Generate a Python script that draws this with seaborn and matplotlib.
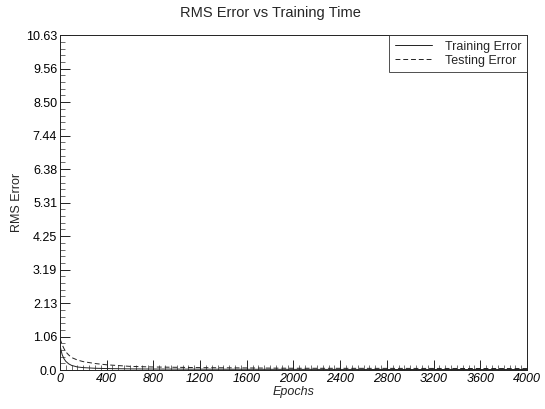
import numpy as np
import pandas as pd
import matplotlib
matplotlib.use("Agg")
import matplotlib.pyplot as plt
from matplotlib.ticker import MultipleLocator, AutoMinorLocator
import seaborn as sns

# Data
train_epochs = [0, 10, 20, 35, 50, 75, 100, 150, 200, 300, 400, 600, 800, 1200, 2000, 3000, 4000]
train_error = [0.80, 0.62, 0.48, 0.36, 0.28, 0.20, 0.15, 0.10, 0.08, 0.06, 0.05, 0.04, 0.035, 0.03, 0.025, 0.02, 0.02]
test_epochs = [0, 10, 20, 35, 50, 75, 100, 150, 200, 300, 400, 600, 800, 1200, 2000, 3000, 4000]
test_error = [1.00, 0.90, 0.80, 0.68, 0.58, 0.48, 0.40, 0.32, 0.27, 0.21, 0.17, 0.12, 0.10, 0.08, 0.06, 0.055, 0.05]
series_names = ["Training Error", "Testing Error"]
y_tick_values = [0.0, 1.063, 2.126, 3.189, 4.252, 5.315, 6.378, 7.441, 8.504, 9.567, 10.63]
y_tick_labels = ["0.0", "1.06", "2.13", "3.19", "4.25", "5.31", "6.38", "7.44", "8.50", "9.56", "10.63"]
x_tick_values = [0, 400, 800, 1200, 1600, 2000, 2400, 2800, 3200, 3600, 4000]

df = pd.concat([
    pd.DataFrame({"Epochs": train_epochs, "RMS Error": train_error, "Series": series_names[0]}),
    pd.DataFrame({"Epochs": test_epochs, "RMS Error": test_error, "Series": series_names[1]}),
])

sns.set_style("white")
plt.rcParams["font.family"] = ["Liberation Sans", "DejaVu Sans"]

fig = plt.figure(figsize=(5.45, 4.09), dpi=100)
ax = fig.add_axes([0.110, 0.095, 0.857, 0.819])

sns.lineplot(data=df, x="Epochs", y="RMS Error", style="Series",
             dashes={series_names[0]: "", series_names[1]: (5, 3)},
             color="#222222", linewidth=0.7, ax=ax)

ax.set_xlim(0, 4000)
ax.set_ylim(0, 10.63)
ax.set_xticks(x_tick_values)
ax.set_xticklabels([str(v) for v in x_tick_values], fontstyle="italic", fontsize=9)
ax.set_yticks(y_tick_values)
ax.set_yticklabels(y_tick_labels, fontsize=9)
ax.xaxis.set_minor_locator(MultipleLocator(50))
ax.yaxis.set_minor_locator(AutoMinorLocator(5))
ax.tick_params(axis="both", which="major", direction="in", length=7, width=0.7,
               colors="#222222", labelcolor="black", pad=2, top=False, right=False, bottom=True, left=True)
ax.tick_params(axis="both", which="minor", direction="in", length=3.5, width=0.5,
               colors="#333333", top=False, right=False, bottom=True, left=True)
for s in ax.spines.values():
    s.set_color("#222222")
    s.set_linewidth(0.7)

ax.set_xlabel("Epochs", fontstyle="italic", fontsize=9, labelpad=1)
ax.set_ylabel("RMS Error", fontsize=9, labelpad=2)
fig.text(0.497, 0.968, "RMS Error vs Training Time", ha="center", va="center", fontsize=10.5)

leg = ax.legend(loc="upper right", frameon=True, fancybox=False, fontsize=9,
                borderaxespad=0, handlelength=3, borderpad=0.45, labelspacing=0.15,
                handletextpad=1.0)
leg.get_frame().set_edgecolor("#222222")
leg.get_frame().set_linewidth(0.7)
leg.set_title(None)
for line in leg.get_lines():
    line.set_linewidth(0.7)

fig.savefig("out.png", dpi=100, facecolor="white")
